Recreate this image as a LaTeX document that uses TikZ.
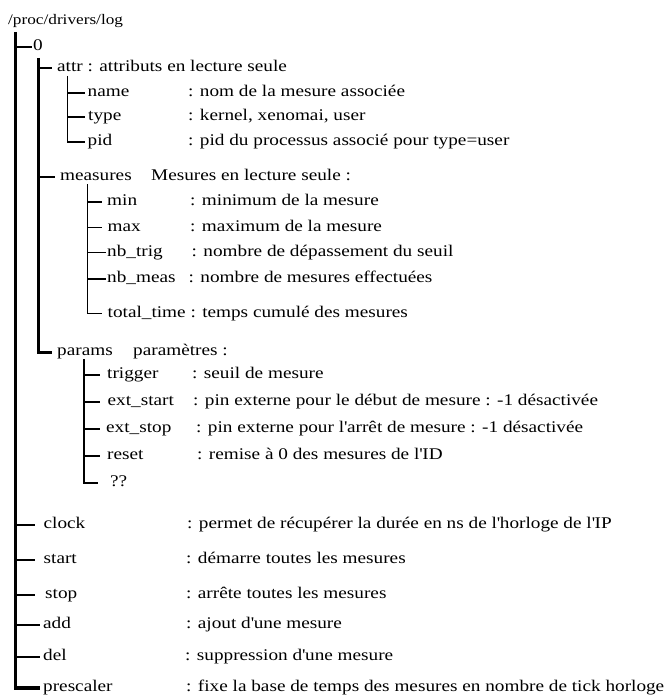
\documentclass[tikz,border=0pt]{standalone}
\usepackage{fontspec}
\setmainfont[FakeStretch=1.18]{Liberation Serif}
\newcommand\sq{\textquotesingle}
\begin{document}
\begin{tikzpicture}[x=1pt,y=-1pt,
  lbl/.style={anchor=west, inner sep=0pt, text height=11pt, text depth=4pt,
              font=\fontsize{16.3}{19}\selectfont},
  ttl/.style={anchor=base west, inner sep=0pt, font=\fontsize{14.6}{17}\selectfont},
  trunkmain/.style={line width=3.2pt},
  trunkid/.style={line width=3pt},
  subtrunk/.style={line width=1.8pt},
  paramtrunk/.style={line width=2.6pt},
  tick/.style={line width=1.6pt},
  tickbold/.style={line width=2pt}]

\fill[white] (0,0) rectangle (670,695);
\useasboundingbox (0,0) rectangle (670,695);

% root path
\node[ttl] (title) at (8,25) {/proc/drivers/log};

% trunk coordinates
\coordinate (t0) at (15.5,32);
\coordinate (t1) at (38,58);
\coordinate (ta) at (67.5,76);
\coordinate (tm) at (87.5,184);
\coordinate (tp) at (84,359);

% ---- entry 0
\node[lbl] (n0) at (33,47) {0};

% attr
\node[lbl] (attr) at (57,68.5) {attr : attributs en lecture seule};
\node[lbl] (name) at (87.5,93) {name};
\node[lbl] (name-d) at (188,93) {: nom de la mesure associée};
\node[lbl] (type) at (88,117) {type};
\node[lbl] (type-d) at (188,117) {: kernel, xenomai, user};
\node[lbl] (pid) at (87.5,142) {pid};
\node[lbl] (pid-d) at (188,142) {: pid du processus associé pour type=user};

% measures
\node[lbl] (meas) at (60,177) {measures};
\node[lbl] (meas-d) at (151,177) {Mesures en lecture seule :};
\node[lbl] (min) at (107,202) {min};
\node[lbl] (min-d) at (190,202) {: minimum de la mesure};
\node[lbl] (max) at (107.5,227.5) {max};
\node[lbl] (max-d) at (190,227.5) {: maximum de la mesure};
\node[lbl] (nbtrig) at (107,252.5) {nb\_trig};
\node[lbl] (nbtrig-d) at (191.5,252.5) {: nombre de dépassement du seuil};
\node[lbl] (nbmeas) at (107,279) {nb\_meas};
\node[lbl] (nbmeas-d) at (188.5,279) {: nombre de mesures effectuées};
\node[lbl] (total) at (107.5,313.5) {total\_time : temps cumulé des mesures};

% params
\node[lbl] (params) at (57,352) {params};
\node[lbl] (params-d) at (133,352) {paramètres :};
\node[lbl] (trigger) at (107,375) {trigger};
\node[lbl] (trigger-d) at (192,375) {: seuil de mesure};
\node[lbl] (extstart) at (107.5,402) {ext\_start};
\node[lbl] (extstart-d) at (193,402) {: pin externe pour le début de mesure : -1 désactivée};
\node[lbl] (extstop) at (106,429) {ext\_stop};
\node[lbl] (extstop-d) at (196,429) {: pin externe pour l\sq arrêt de mesure : -1 désactivée};
\node[lbl] (reset) at (107,456) {reset};
\node[lbl] (reset-d) at (197,456) {: remise à 0 des mesures de l\sq ID};
\node[lbl] (unk) at (110,483) {??};

% ---- global entries
\node[lbl] (clock) at (43.5,525) {clock};
\node[lbl] (clock-d) at (187,525) {: permet de récupérer la durée en ns de l\sq horloge de l\sq IP};
\node[lbl] (start) at (43.5,560) {start};
\node[lbl] (start-d) at (186,560) {: démarre toutes les mesures};
\node[lbl] (stop) at (45,595) {stop};
\node[lbl] (stop-d) at (186,595) {: arrête toutes les mesures};
\node[lbl] (add) at (43,625) {add};
\node[lbl] (add-d) at (186,625) {: ajout d\sq une mesure};
\node[lbl] (del) at (43,657) {del};
\node[lbl] (del-d) at (185,657) {: suppression d\sq une mesure};
\node[lbl] (presc) at (43,688) {prescaler};
\node[lbl] (presc-d) at (186,688) {: fixe la base de temps des mesures en nombre de tick horloge};

% ---- tree connectors
% main trunk
\draw[trunkmain] (t0) |- ([xshift=-3pt]presc.west);
\draw[tickbold] (t0 |- n0.west) -- ([xshift=-1.5pt]n0.west);
\draw[tick] (t0 |- clock.west) -- ([xshift=-8.5pt]clock.west);
\draw[tick] (t0 |- start.west) -- ([xshift=-8.5pt]start.west);
\draw[tick] (t0 |- stop.west) -- ([xshift=-10pt]stop.west);
\draw[tick] (t0 |- add.west) -- ([xshift=-3pt]add.west);
\draw[tick] (t0 |- del.west) -- ([xshift=-3pt]del.west);

% trunk of entry 0
\draw[trunkid] (t1) |- ([xshift=-5pt]params.west);
\draw[tickbold] (t1 |- attr.west) -- ([xshift=-5.5pt]attr.west);
\draw[tick] (t1 |- meas.west) -- ([xshift=-5pt]meas.west);

% attr children
\draw[subtrunk] (ta) |- ([xshift=-2.5pt]pid.west);
\draw[tick] (ta |- name.west) -- ([xshift=-2.5pt]name.west);
\draw[tick] (ta |- type.west) -- ([xshift=-3pt]type.west);

% measures children
\draw[subtrunk] (tm) |- ([xshift=-5.5pt]total.west);
\draw[tick] (tm |- min.west) -- ([xshift=-5pt]min.west);
\draw[tick] (tm |- max.west) -- ([xshift=-5.5pt]max.west);
\draw[tick] (tm |- nbtrig.west) -- ([xshift=-1pt]nbtrig.west);
\draw[tick] (tm |- nbmeas.west) -- ([xshift=-1pt]nbmeas.west);

% params children
\draw[paramtrunk] (tp) |- ([xshift=-12pt]unk.west);
\draw[tick] (tp |- trigger.west) -- ([xshift=-7pt]trigger.west);
\draw[tick] (tp |- extstart.west) -- ([xshift=-7.5pt]extstart.west);
\draw[tick] (tp |- extstop.west) -- ([xshift=-6pt]extstop.west);
\draw[tick] (tp |- reset.west) -- ([xshift=-7pt]reset.west);
\end{tikzpicture}
\end{document}
